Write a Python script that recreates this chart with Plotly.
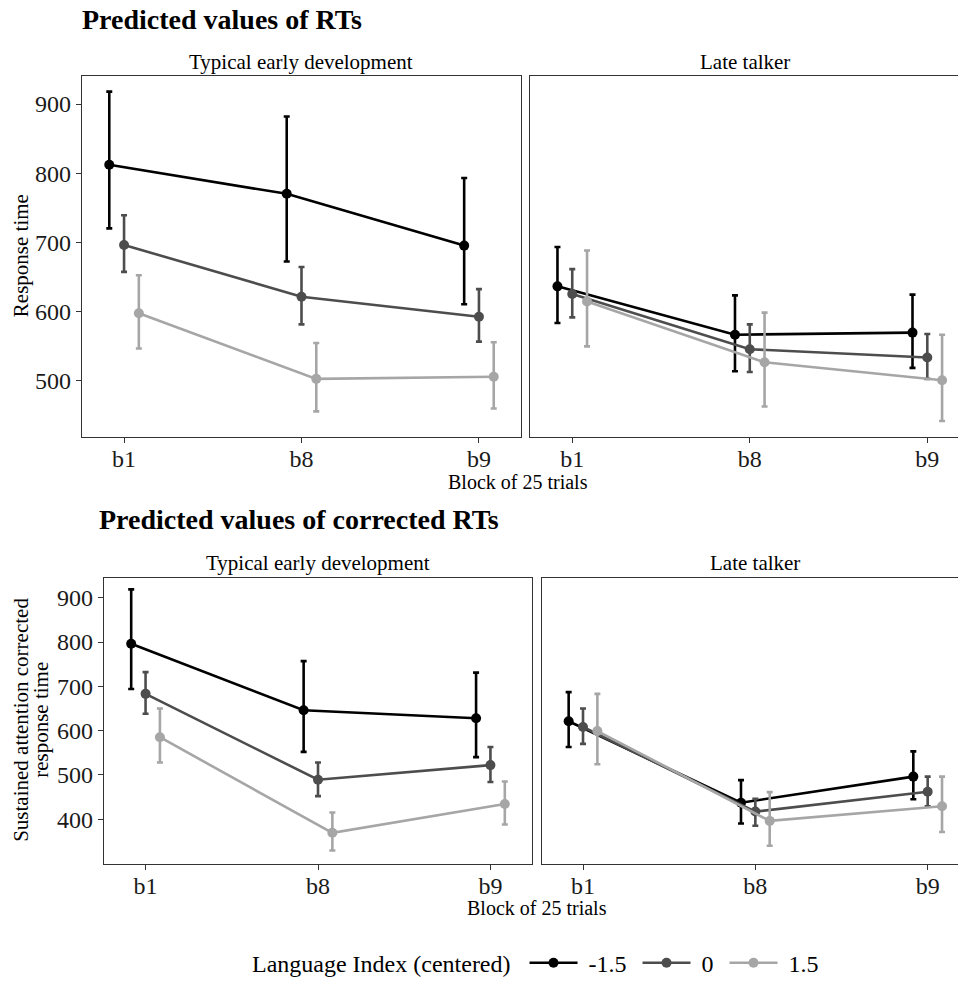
import plotly.graph_objects as go

# ---------------- data ----------------
blocks = ["b1", "b8", "b9"]
groups = ["-1.5", "0", "1.5"]
colors = ["#000000", "#4d4d4d", "#a6a6a6"]
dodge = [-0.0833, 0.0, 0.0833]

# Predicted values of RTs - Typical early development  (rows = groups, cols = blocks)
rt_typ_est = [[812, 770, 695], [696, 621, 592], [597, 502, 505]]
rt_typ_lo = [[720, 672, 610], [657, 581, 556], [546, 455, 459]]
rt_typ_hi = [[918, 882, 793], [739, 664, 632], [652, 554, 555]]

# Predicted values of RTs - Late talker
rt_late_est = [[636, 566, 569], [625, 545, 533], [614, 526, 500]]
rt_late_lo = [[583, 513, 518], [591, 512, 502], [549, 462, 441]]
rt_late_hi = [[693, 623, 624], [661, 581, 567], [688, 598, 566]]

# Predicted values of corrected RTs - Typical early development
crt_typ_est = [[796, 646, 628], [683, 489, 522], [585, 369, 434]]
crt_typ_lo = [[694, 552, 540], [638, 452, 484], [528, 329, 388]]
crt_typ_hi = [[919, 757, 731], [732, 528, 563], [650, 415, 485]]

# Predicted values of corrected RTs - Late talker
crt_late_est = [[621, 437, 496], [608, 417, 462], [599, 396, 429]]
crt_late_lo = [[563, 390, 445], [570, 385, 429], [524, 340, 371]]
crt_late_hi = [[687, 488, 553], [650, 446, 496], [683, 461, 496]]

# ---------------- figure ----------------
W, H = 958, 986
FONT = "Liberation Serif, Times New Roman, serif"
AX = "#333333"

fig = go.Figure()

panels = [
    ("x", "y", rt_typ_est, rt_typ_lo, rt_typ_hi, True),
    ("x2", "y2", rt_late_est, rt_late_lo, rt_late_hi, False),
    ("x3", "y3", crt_typ_est, crt_typ_lo, crt_typ_hi, False),
    ("x4", "y4", crt_late_est, crt_late_lo, crt_late_hi, False),
]

for xa, ya, est, lo, hi, show in panels:
    for g in range(len(groups)):
        xs = [i + 1 + dodge[g] for i in range(len(blocks))]
        fig.add_trace(go.Scatter(
            x=xs, y=est[g], xaxis=xa, yaxis=ya,
            mode="lines+markers", name=" " + groups[g] + " ", showlegend=show,
            line=dict(color=colors[g], width=2.6),
            marker=dict(color=colors[g], size=10),
            error_y=dict(type="data", symmetric=False,
                         array=[h - e for h, e in zip(hi[g], est[g])],
                         arrayminus=[e - l for e, l in zip(est[g], lo[g])],
                         color=colors[g], thickness=2.6, width=3),
            hoverinfo="skip",
        ))


def px_x(p):
    return p / W


def px_y(p):
    return 1 - p / H


xbase = dict(tickmode="array", tickvals=[1, 2, 3], ticktext=blocks,
             showline=True, linecolor=AX, linewidth=1.2, mirror=True,
             ticks="outside", ticklen=5, tickcolor=AX, tickwidth=1.2,
             showgrid=False, zeroline=False, ticklabelstandoff=-5,
             tickfont=dict(family=FONT, size=24, color="#1a1a1a"))
ybase = dict(showgrid=False, zeroline=False, showline=True, linecolor=AX, linewidth=1.2,
             tickfont=dict(family=FONT, size=24, color="#1a1a1a"),
             ticks="outside", ticklen=5, tickcolor=AX, tickwidth=1.2)

top_dom = [px_y(440), px_y(77)]
bot_dom = [px_y(870), px_y(582)]

fig.update_layout(
    xaxis=dict(xbase, domain=[px_x(82), px_x(521)], range=[0.763, 3.237], anchor="y"),
    xaxis2=dict(xbase, domain=[px_x(530), 1.0], range=[0.762, 3.173], anchor="y2"),
    xaxis3=dict(xbase, domain=[px_x(104), px_x(532)], range=[0.759, 3.241], anchor="y3"),
    xaxis4=dict(xbase, domain=[px_x(542), 1.0], range=[0.762, 3.176], anchor="y4"),
    yaxis=dict(ybase, domain=top_dom, range=[418, 940], tickvals=[500, 600, 700, 800, 900],
               mirror=True, anchor="x"),
    yaxis2=dict(ybase, domain=top_dom, range=[418, 940], showticklabels=False, ticks="",
                mirror=False, anchor="x2"),
    yaxis3=dict(ybase, domain=bot_dom, range=[299, 945], tickvals=[400, 500, 600, 700, 800, 900],
                mirror=True, anchor="x3"),
    yaxis4=dict(ybase, domain=bot_dom, range=[299, 945], showticklabels=False, ticks="",
                mirror=False, anchor="x4"),
)

ann = []


def text(x, y, s, size, xanchor="center", angle=0):
    ann.append(dict(x=px_x(x), y=px_y(y), xref="paper", yref="paper", text=s,
                    showarrow=False, xanchor=xanchor, yanchor="middle", textangle=angle,
                    font=dict(family=FONT, size=size, color="#000000"),
                    align="center"))


text(80, 20, "<b>Predicted values of RTs</b>", 28, xanchor="left")
text(97, 523, "<b>Predicted values of corrected RTs</b>", 28, xanchor="left")
text(301, 62, "Typical early development", 21)
text(745, 62, "Late talker", 21)
text(318, 567, "Typical early development", 21)
text(755, 567, "Late talker", 21)
text(518, 485, "Block of 25 trials", 20)
text(537, 914, "Block of 25 trials", 20)
text(21, 258, "Response time", 21, angle=-90)
text(21, 725, "Sustained attention corrected", 21, angle=-90)
text(41, 725, "response time", 21, angle=-90)

fig.update_layout(
    width=W, height=H,
    margin=dict(l=0, r=0, t=0, b=0),
    paper_bgcolor="white", plot_bgcolor="white",
    annotations=ann,
    legend=dict(orientation="h", x=px_x(250), xanchor="left", y=px_y(970), yanchor="middle",
                font=dict(family=FONT, size=24, color="#000000"),
                title=dict(text="Language Index (centered) ", side="left",
                           font=dict(family=FONT, size=24, color="#000000")),
                itemwidth=48, bgcolor="rgba(0,0,0,0)"),
    font=dict(family=FONT),
)

# remove the browser's default 8px page margin so the figure fills the window
fig.write_html("out.html",
               config={"displayModeBar": False},
               post_script="document.body.style.margin='0';document.body.style.overflow='hidden';")
